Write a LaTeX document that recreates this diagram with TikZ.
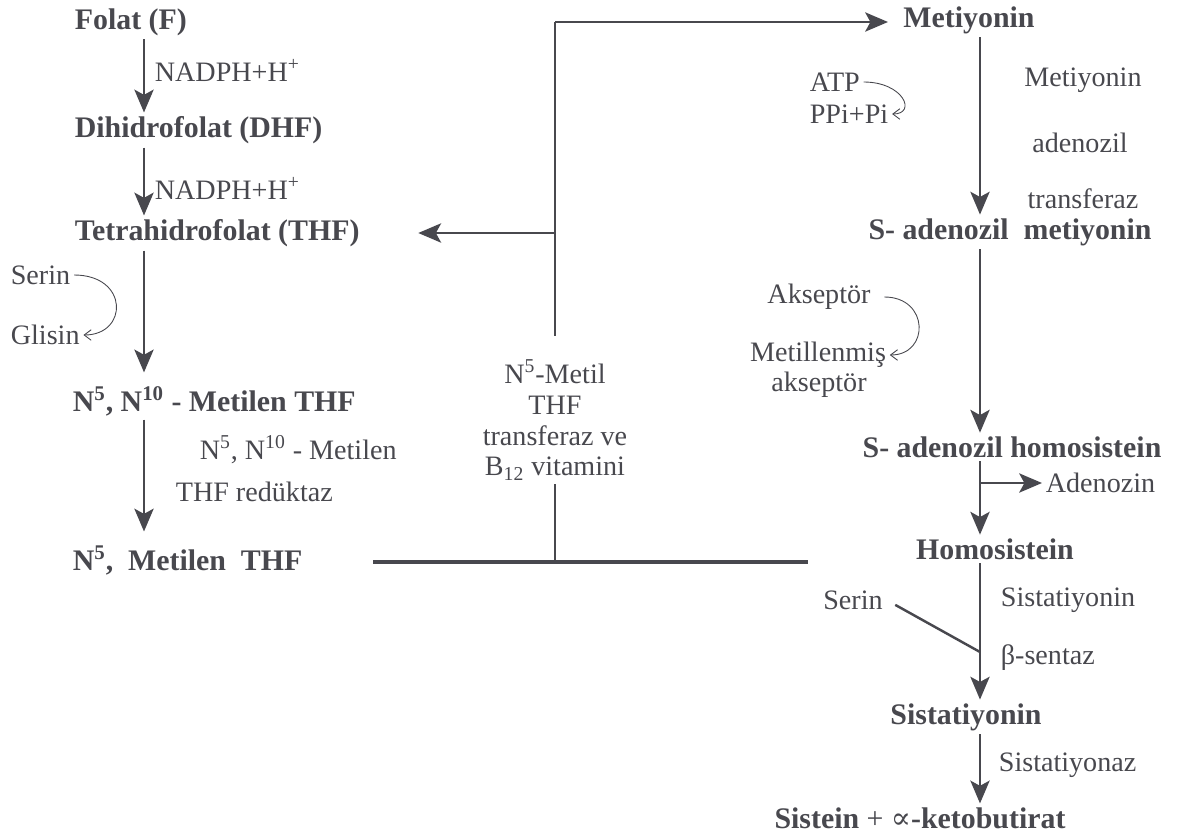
\documentclass[tikz,border=0pt]{standalone}
\usepackage{fontspec}
\setmainfont{Liberation Serif}
\newfontfamily\symfont{DejaVu Serif}
\usetikzlibrary{arrows.meta}
\definecolor{ink}{RGB}{72,72,78}
\tikzset{
  cmpd/.style={font=\fontsize{17}{18}\selectfont\bfseries, text=ink, inner sep=2pt},
  enz/.style={font=\fontsize{16}{18}\selectfont, text=ink, inner sep=2pt},
  flow/.style={draw=ink, line width=1.1pt, -{Stealth[length=13pt,width=11pt,inset=3pt]}},
  cofac/.style={draw=ink, line width=0.5pt, -{Straight Barb[length=4pt,width=6pt]}},
  bar/.style={draw=ink, line width=1.8pt}
}
\begin{document}
\begin{tikzpicture}[x=0.02cm,y=-0.02cm]
 \useasboundingbox (0,0) rectangle (1178,836);
 % folat side
 \coordinate (lx) at (144,0);
 \node[cmpd, anchor=west] (folat) at (71,22) {Folat (F)};
 \node[cmpd, anchor=west] (dhf) at (71,130) {Dihidrofolat (DHF)};
 \node[cmpd, anchor=west] (thf) at (71,233) {Tetrahidrofolat (THF)};
 \node[cmpd, anchor=west] (mthf10) at (69,401) {N\textsuperscript{5}, N\textsuperscript{10} - Metilen THF};
 \node[cmpd, anchor=west] (mthf5) at (69,560) {N\textsuperscript{5},\ \ Metilen\ \ THF};
 \node[enz, anchor=west] (nadph1) at (151,70) {NADPH+H\textsuperscript{+}};
 \node[enz, anchor=west] (nadph2) at (151,188) {NADPH+H\textsuperscript{+}};
 \node[enz, anchor=west] (serin1) at (7,275) {Serin};
 \node[enz, anchor=west] (glisin) at (7,335) {Glisin};
 \node[enz, anchor=west] (red1) at (196,450) {N\textsuperscript{5}, N\textsuperscript{10} - Metilen};
 \node[enz, anchor=west] (red2) at (172,492) {THF redüktaz};
 \draw[flow] (folat.south -| lx) -- (dhf.north -| lx);
 \draw[flow] (dhf.south -| lx) -- (thf.north -| lx);
 \draw[flow, shorten >=0.2cm] (thf.south -| lx) -- (mthf10.north -| lx);
 \draw[flow, shorten >=0.2cm] (mthf10.south -| lx) -- (mthf5.north -| lx);
 \draw[cofac] (serin1.east) .. controls +(55,0) and +(45,0) .. (glisin.east);
 % transferaz
 \coordinate (top) at (555,22);
 \coordinate (tee) at (555,562);
 \coordinate (barl) at (373,562);
 \coordinate (barr) at (808,562);
 \node[enz, align=center, font=\fontsize{16}{17.5}\selectfont] (mtr) at (555,420)
   {N\textsuperscript{5}-Metil\\THF\\transferaz ve\\B\textsubscript{12} vitamini};
 \draw[bar] (barl) -- (barr);
 \draw[bar, line width=1.4pt] (tee) -- (mtr.south);
 \draw[bar, line width=1.4pt, shorten <=0.4cm] (mtr.north) -- (top);
 \draw[flow] (top) -- (888,22);
 \draw[flow, shorten >=1.1cm] (top |- thf.east) -- (thf.east);
 % metiyonin side
 \coordinate (rx) at (980,0);
 \node[cmpd] (met) at (969,20) {Metiyonin};
 \node[cmpd] (sam) at (1010,232) {S- adenozil\ \ metiyonin};
 \node[cmpd] (sah) at (1012,447) {S- adenozil homosistein};
 \node[cmpd] (hcy) at (995,549) {Homosistein};
 \node[cmpd] (cth) at (966,717) {Sistatiyonin};
 \node[cmpd, anchor=base] (cys) at (920,828) {Sistein {\mdseries +} {\symfont\mdseries ∝}-ketobutirat};
 \node[enz, anchor=west] (atp) at (806,82) {ATP};
 \node[enz, anchor=west] (ppi) at (806,114) {PPi+Pi};
 \node[enz] (mat1) at (1083,80) {Metiyonin};
 \node[enz] (mat2) at (1080,143) {adenozil};
 \node[enz] (mat3) at (1083,199) {transferaz};
 \node[enz] (akc) at (819,297) {Akseptör};
 \node[enz] (makc1) at (818,355) {Metillenmiş};
 \node[enz] (makc2) at (819,385) {akseptör};
 \node[enz, anchor=west] (ado) at (1042,483) {Adenozin};
 \node[enz] (serin2) at (853,600) {Serin};
 \node[enz, anchor=west] (cbs1) at (997,600) {Sistatiyonin};
 \node[enz, anchor=west] (cbs2) at (997,658) {β-sentaz};
 \node[enz, anchor=west] (cgl) at (995,765) {Sistatiyonaz};
 \coordinate (adoj) at (980,483);
 \coordinate (serj) at (980,652);
 \draw[flow] (met.south -| rx) -- (sam.north -| rx);
 \draw[flow] (sam.south -| rx) -- (sah.north -| rx);
 \draw[flow] (sah.south -| rx) -- (hcy.north -| rx);
 \draw[flow] (adoj) -- (ado.west);
 \draw[flow] (hcy.south -| rx) -- (cth.north -| rx);
 \draw[draw=ink, line width=1.4pt, shorten <=0.2cm] (serin2.east) -- (serj);
 \draw[flow] (cth.south -| rx) -- (cys.north -| rx);
 \draw[cofac] (atp.east) .. controls +(40,0) and +(25,0) .. (ppi.east);
 \draw[cofac, shorten <=0.2cm] (akc.east) .. controls +(55,0) and +(40,0) .. (makc1.east);
\end{tikzpicture}
\end{document}
